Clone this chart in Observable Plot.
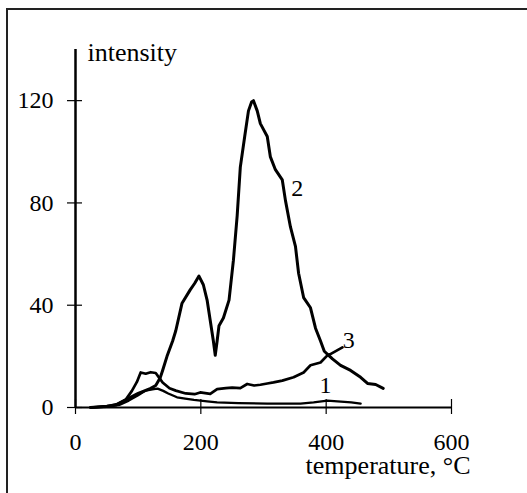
<!DOCTYPE html>
<html>
<head>
<meta charset="utf-8">
<script src="https://cdn.jsdelivr.net/npm/d3@7"></script>
<script src="https://cdn.jsdelivr.net/npm/@observablehq/plot@0.6"></script>
<style>
  html, body { margin: 0; padding: 0; background: #fff; }
  #wrap { position: relative; width: 527px; height: 493px; overflow: hidden; }
  #frame { position: absolute; left: 6px; top: 8px; width: 521px; height: 485px;
           border-top: 2px solid #222; border-left: 2px solid #222; box-sizing: border-box; }
  #chart { position: absolute; left: 0; top: 0; }
</style>
</head>
<body>
<div id="wrap"><div id="frame"></div><div id="chart"></div></div>
<script>
// Curve 1
const curve1T = [24, 50, 70, 85, 100, 112, 125, 131, 140, 148, 162, 175, 189, 210, 226, 260, 306, 359, 380, 402, 418, 440, 455];
const curve1I = [0, 0.3, 1, 2.7, 4.8, 6.6, 7.2, 7.4, 6.5, 5.5, 4, 3.5, 3, 2.4, 2, 1.7, 1.5, 1.5, 2, 2.7, 2.4, 2, 1.5];
// Curve 2
const curve2T = [24, 50, 65, 80, 100, 120, 128, 135, 139, 146, 155, 160, 170, 183, 190, 197, 204, 210, 215, 220, 223, 226, 229, 236, 245, 252, 258, 263, 270, 276, 281, 284, 290, 295, 306, 311, 319, 330, 335, 343, 351, 356, 364, 375, 383, 391, 397, 404, 410, 423, 439, 455, 466, 479, 491];
const curve2I = [0, 0.5, 1, 3, 5.5, 7.5, 8.6, 11.5, 14.5, 20, 26, 30, 40.8, 46, 48.5, 51.4, 48, 42, 34, 26, 20.4, 26, 32, 35, 42, 57.6, 75, 94, 106, 116, 119.5, 120, 116, 111, 106, 98, 93, 89, 81, 70.6, 63, 52.5, 43, 39, 31, 26, 22, 20.4, 19, 16.5, 14.5, 11.8, 9.4, 9, 7.5];
// Curve 3
const curve3T = [24, 50, 65, 80, 90, 98, 104, 112, 120, 128, 134, 139, 150, 160, 176, 190, 199, 215, 226, 240, 250, 263, 274, 285, 295, 306, 316, 330, 348, 364, 375, 391, 402, 406, 426];
const curve3I = [0, 0.5, 1.2, 3, 6.5, 10, 13.7, 13.2, 13.8, 13.5, 11.5, 9.8, 7.5, 6.6, 5.5, 5.2, 5.9, 5.3, 7.2, 7.6, 7.8, 7.6, 9.2, 8.6, 8.9, 9.4, 9.8, 10.5, 11.8, 13.7, 16.5, 17.6, 20.4, 20.8, 23.5];

// Curve labels
const labelText = ["1", "2", "3"];
const labelT = [399, 354, 436];
const labelI = [8.6, 85.6, 26.2];

// Axes
const xTicks = [0, 200, 400, 600];
const yTicks = [0, 40, 80, 120];
const xDomain = [0, 600];
const yDomain = [0, 140];
const xTitle = "temperature, °C";
const yTitle = "intensity";

const mk = (T, I) => T.map((t, i) => ({t, v: I[i]}));
const labels = labelText.map((s, i) => ({s, t: labelT[i], v: labelI[i]}));

const font = "'Liberation Serif', 'DejaVu Serif', serif";
const lineOpts = {x: "t", y: "v", stroke: "#000", strokeLinejoin: "round", strokeLinecap: "round"};

const chart = Plot.plot({
  width: 527,
  height: 493,
  marginLeft: 75,
  marginRight: 76,
  marginTop: 49,
  marginBottom: 86,
  style: {fontFamily: font, background: "transparent", color: "#000"},
  x: {domain: xDomain, label: null},
  y: {domain: yDomain, label: null},
  marks: [
    // crossing ticks
    Plot.axisY({ticks: yTicks, tickSize: 15, dx: 7, tickFormat: () => "", label: null, strokeWidth: 1.2}),
    Plot.axisX({ticks: xTicks, tickSize: 15, dy: -8, tickFormat: () => "", label: null, strokeWidth: 1.2}),
    // tick labels
    Plot.axisY({ticks: yTicks, tickSize: 0, tickPadding: 22, fontSize: 24, label: null, tickFormat: d => String(d)}),
    Plot.axisX({ticks: xTicks, tickSize: 0, tickPadding: 25, fontSize: 24, label: null, tickFormat: d => String(d)}),
    // axis lines
    Plot.ruleX([0], {stroke: "#000", strokeWidth: 2.5}),
    Plot.ruleY([0], {stroke: "#000", strokeWidth: 2}),
    // curves
    Plot.line(mk(curve1T, curve1I), {...lineOpts, strokeWidth: 2.3}),
    Plot.line(mk(curve3T, curve3I), {...lineOpts, strokeWidth: 2.7}),
    Plot.line(mk(curve2T, curve2I), {...lineOpts, strokeWidth: 3}),
    // curve labels
    Plot.text(labels, {x: "t", y: "v", text: "s", fontSize: 24, fill: "#000"}),
    // axis titles
    Plot.text([yTitle], {x: () => xDomain[0], y: () => yDomain[1], text: d => d, textAnchor: "start", dx: 12, dy: 3, fontSize: 26, fill: "#000"}),
    Plot.text([xTitle], {x: () => xDomain[1], y: () => yDomain[0], text: d => d, textAnchor: "end", dx: 19, dy: 58, fontSize: 26, fill: "#000"})
  ]
});
document.getElementById("chart").appendChild(chart);
</script>
</body>
</html>
